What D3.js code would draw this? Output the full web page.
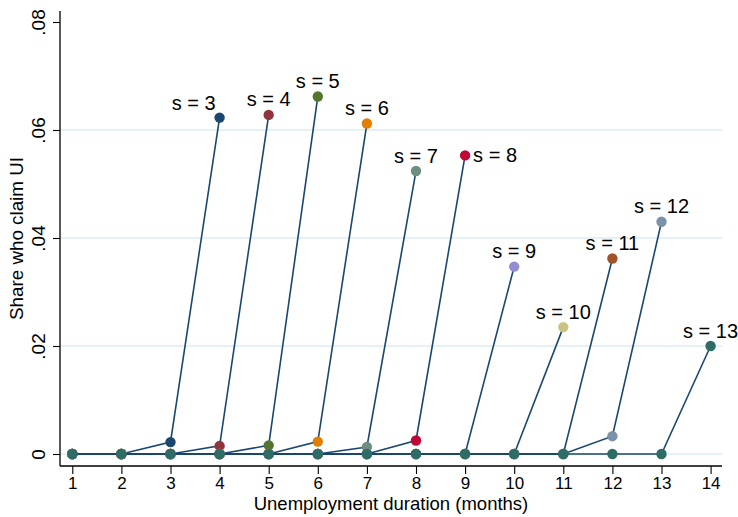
<!DOCTYPE html>
<html>
<head>
<meta charset="utf-8">
<script src="https://cdn.jsdelivr.net/npm/d3@7"></script>
<style>
  html, body { margin: 0; padding: 0; background: #fff; }
  svg { display: block; font-family: "Liberation Sans", Arial, Helvetica, sans-serif; }
</style>
</head>
<body>
<svg id="chart" width="738" height="517"></svg>
<script>
// Months of unemployment on the x axis
const months = [1, 2, 3, 4, 5, 6, 7, 8, 9, 10, 11, 12, 13, 14];
// y-axis tick values and labels
const yTicks = [0, 0.02, 0.04, 0.06, 0.08];
const yTickLabels = ["0", ".02", ".04", ".06", ".08"];

// Share who claim UI by month, one series per s (months 1 .. s+1)
const share3  = [0, 0, 0.0022, 0.0623];
const share4  = [0, 0, 0, 0.0015, 0.0628];
const share5  = [0, 0, 0, 0, 0.0016, 0.0662];
const share6  = [0, 0, 0, 0, 0, 0.0023, 0.0612];
const share7  = [0, 0, 0, 0, 0, 0, 0.0013, 0.0524];
const share8  = [0, 0, 0, 0, 0, 0, 0, 0.0025, 0.0553];
const share9  = [0, 0, 0, 0, 0, 0, 0, 0, 0, 0.0347];
const share10 = [0, 0, 0, 0, 0, 0, 0, 0, 0, 0, 0.0235];
const share11 = [0, 0, 0, 0, 0, 0, 0, 0, 0, 0, 0, 0.0362];
const share12 = [0, 0, 0, 0, 0, 0, 0, 0, 0, 0, 0, 0.0033, 0.0430];
const share13 = [0, 0, 0, 0, 0, 0, 0, 0, 0, 0, 0, 0, 0, 0.0200];

const sValues = [3, 4, 5, 6, 7, 8, 9, 10, 11, 12, 13];
const seriesShares = [share3, share4, share5, share6, share7, share8, share9, share10, share11, share12, share13];

// Marker colours (Stata s2color order)
const markerColors = ["#1a476f", "#90353b", "#55752f", "#e37e00", "#6e8e84", "#c10534",
                      "#938dd2", "#cac27e", "#a0522d", "#7b92a8", "#2d6d66"];
const lineColor = "#1a476f";
// Where each label sits relative to its peak marker
const labelSide = { 3: "upleft", 8: "right" };

const svg = d3.select("#chart");
const plot = { left: 60, right: 722, top: 11, bottom: 466 };
const font = "Liberation Sans, Arial, sans-serif";

const x = d3.scaleLinear().domain([1, 14]).range([72.3, 710.6]);
const y = d3.scaleLinear().domain([0, 0.08]).range([454, 22]);

// Horizontal grid lines
svg.append("g")
  .selectAll("line")
  .data(yTicks.filter(v => v < 0.08))
  .join("line")
  .attr("x1", plot.left).attr("x2", plot.right)
  .attr("y1", d => y(d)).attr("y2", d => y(d))
  .attr("stroke", "#ddedf0").attr("stroke-width", 1.5);

// Axes
const xAxis = d3.axisBottom(x).tickValues(months).tickFormat(d3.format("d")).tickSize(8).tickSizeOuter(0);
const gx = svg.append("g").attr("transform", `translate(0,${plot.bottom})`).call(xAxis)
  .attr("font-size", null).attr("font-family", null);
gx.select(".domain").remove();
gx.append("line").attr("x1", plot.left).attr("x2", plot.right).attr("y1", 0).attr("y2", 0)
  .attr("stroke", "#000").attr("stroke-width", 1.3);
gx.selectAll(".tick line").attr("stroke", "#000").attr("stroke-width", 1.1);
gx.selectAll(".tick text")
  .style("font-size", "17px").style("font-family", font)
  .attr("fill", "#000").attr("dy", null).attr("y", 23);

const yAxis = d3.axisLeft(y).tickValues(yTicks).tickFormat((d, i) => yTickLabels[i]).tickSize(7).tickSizeOuter(0);
const gy = svg.append("g").attr("transform", `translate(${plot.left},0)`).call(yAxis)
  .attr("font-size", null).attr("font-family", null);
gy.select(".domain").remove();
gy.append("line").attr("x1", 0).attr("x2", 0).attr("y1", plot.top).attr("y2", plot.bottom)
  .attr("stroke", "#000").attr("stroke-width", 1.3);
gy.selectAll(".tick line").attr("stroke", "#000").attr("stroke-width", 1.1);
gy.selectAll(".tick text")
  .style("font-size", "19px").style("font-family", font)
  .attr("fill", "#000")
  .attr("x", null).attr("dy", null)
  .attr("text-anchor", "middle")
  .attr("transform", "translate(-15,0) rotate(-90)");

// Axis titles
svg.append("text")
  .attr("x", (plot.left + plot.right) / 2).attr("y", 510)
  .attr("text-anchor", "middle").style("font-size", "18.5px")
  .text("Unemployment duration (months)");
svg.append("text")
  .attr("transform", `translate(23,${(plot.top + plot.bottom) / 2}) rotate(-90)`)
  .attr("text-anchor", "middle").style("font-size", "18.8px")
  .text("Share who claim UI");

// Connected series: each draws its line, then its markers
const line = d3.line().x(d => x(d.m)).y(d => y(d.v));
sValues.forEach((s, i) => {
  const pts = seriesShares[i].map((v, j) => ({ m: months[j], v }));
  const g = svg.append("g");
  g.append("path").attr("d", line(pts))
    .attr("fill", "none").attr("stroke", lineColor).attr("stroke-width", 1.6);
  g.selectAll("circle").data(pts).join("circle")
    .attr("cx", d => x(d.m)).attr("cy", d => y(d.v)).attr("r", 5.2)
    .attr("fill", markerColors[i]);
});

// Labels at each series' peak
sValues.forEach((s, i) => {
  const vals = seriesShares[i];
  const peak = { m: months[vals.length - 1], v: vals[vals.length - 1] };
  const side = labelSide[s] || "up";
  const t = svg.append("text").style("font-size", "20px").text(`s = ${s}`);
  if (side === "right") {
    t.attr("x", x(peak.m) + 8).attr("y", y(peak.v) + 7).attr("text-anchor", "start");
  } else if (side === "upleft") {
    t.attr("x", x(peak.m) - 4).attr("y", y(peak.v) - 8).attr("text-anchor", "end");
  } else {
    t.attr("x", x(peak.m)).attr("y", y(peak.v) - 8.5).attr("text-anchor", "middle");
  }
});
</script>
</body>
</html>
